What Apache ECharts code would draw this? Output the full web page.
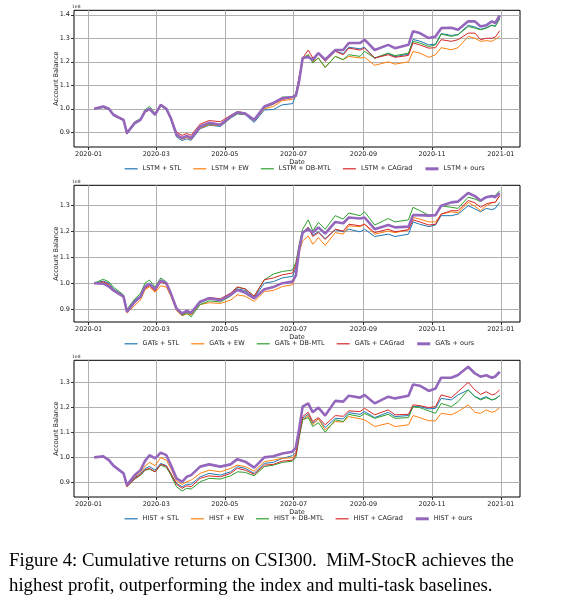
<!DOCTYPE html>
<html>
<head>
<meta charset="utf-8">
<script src="https://cdn.jsdelivr.net/npm/echarts@6/dist/echarts.min.js"></script>
<style>
  html, body { margin: 0; padding: 0; background: #fff; }
  #main { width: 572px; height: 606px; }
</style>
</head>
<body>
<div id="main"></div>
<script>
// sample dates (trading days)
var dates = ['2020-01-06','2020-01-14','2020-01-19','2020-01-23','2020-02-01','2020-02-04','2020-02-11','2020-02-16','2020-02-20','2020-02-24',
  '2020-02-29','2020-03-05','2020-03-10','2020-03-14','2020-03-19','2020-03-24','2020-03-28','2020-04-01','2020-04-09','2020-04-17',
  '2020-04-27','2020-05-06','2020-05-12','2020-05-19','2020-05-27','2020-06-05','2020-06-13','2020-06-21','2020-06-30','2020-07-03',
  '2020-07-06','2020-07-09','2020-07-14','2020-07-18','2020-07-23','2020-07-29','2020-08-07','2020-08-14','2020-08-19','2020-08-29',
  '2020-09-02','2020-09-11','2020-09-23','2020-09-29','2020-10-11','2020-10-15','2020-10-21','2020-10-29','2020-11-04','2020-11-09',
  '2020-11-18','2020-11-24','2020-12-03','2020-12-09','2020-12-14','2020-12-19','2020-12-24','2020-12-27','2020-12-31'];

var xTickLabels = ['2020-01','2020-03','2020-05','2020-07','2020-09','2020-11','2021-01'];
var yTicks1 = [0.9, 1.0, 1.1, 1.2, 1.3, 1.4];
var yTicks2 = [0.9, 1.0, 1.1, 1.2, 1.3];
var yTicks3 = [0.9, 1.0, 1.1, 1.2, 1.3];

var methods = ['STL', 'EW', 'DB-MTL', 'CAGrad', 'ours'];
var colors = ['#1f77b4', '#ff7f0e', '#2ca02c', '#d62728', '#9467bd'];

// account balance, units of 1e8
// LSTM
var lstmSTL = [1.0,1.005,0.997,0.97,0.95,0.892,0.935,0.95,0.985,0.995,0.972,1.012,0.995,0.955,0.88,0.865,0.872,0.866,0.915,0.93,0.925,0.96,0.978,0.975,0.942,0.995,0.997,1.017,1.022,1.06,1.13,1.21,1.225,1.2,1.235,1.205,1.245,1.235,1.262,1.255,1.262,1.215,1.235,1.222,1.232,1.295,1.288,1.272,1.275,1.32,1.312,1.316,1.355,1.348,1.338,1.345,1.356,1.352,1.383];
var lstmEW = [1.0,1.006,0.997,0.972,0.95,0.895,0.938,0.952,0.985,0.997,0.975,1.013,0.997,0.957,0.885,0.87,0.878,0.87,0.918,0.932,0.928,0.962,0.98,0.977,0.948,1.0,1.01,1.035,1.04,1.055,1.12,1.209,1.23,1.2,1.216,1.176,1.223,1.209,1.223,1.216,1.219,1.185,1.2,1.19,1.2,1.244,1.237,1.219,1.23,1.26,1.251,1.26,1.308,1.3,1.287,1.29,1.287,1.295,1.308];
var lstmDB = [1.0,1.008,0.998,0.972,0.952,0.9,0.945,0.958,0.995,1.01,0.982,1.015,1.0,0.96,0.89,0.876,0.884,0.876,0.922,0.935,0.93,0.962,0.98,0.978,0.95,1.005,1.02,1.05,1.05,1.065,1.13,1.216,1.23,1.195,1.216,1.176,1.223,1.209,1.23,1.223,1.244,1.216,1.237,1.226,1.237,1.287,1.28,1.265,1.272,1.318,1.308,1.315,1.35,1.343,1.336,1.343,1.355,1.35,1.386];
var lstmCAG = [1.0,1.008,0.998,0.972,0.95,0.895,0.937,0.955,0.985,0.997,0.975,1.018,1.002,0.963,0.9,0.887,0.895,0.887,0.935,0.95,0.945,0.972,0.988,0.982,0.955,1.008,1.02,1.04,1.048,1.06,1.14,1.216,1.25,1.216,1.237,1.202,1.245,1.23,1.258,1.25,1.258,1.216,1.23,1.219,1.227,1.28,1.272,1.258,1.26,1.294,1.287,1.294,1.322,1.322,1.294,1.3,1.3,1.305,1.332];
var lstmOurs = [1.0,1.01,1.0,0.975,0.953,0.897,0.94,0.953,0.989,1.0,0.975,1.017,1.0,0.96,0.89,0.875,0.885,0.875,0.925,0.94,0.932,0.967,0.985,0.98,0.953,1.01,1.025,1.045,1.05,1.055,1.12,1.216,1.22,1.209,1.237,1.209,1.25,1.25,1.28,1.28,1.294,1.25,1.272,1.258,1.272,1.33,1.322,1.301,1.308,1.343,1.345,1.336,1.372,1.372,1.35,1.355,1.372,1.365,1.397];

// GATs
var gatSTL = [1.0,1.008,1.0,0.978,0.952,0.895,0.935,0.952,0.99,1.0,0.978,1.012,1.0,0.96,0.898,0.878,0.888,0.88,0.925,0.94,0.935,0.958,0.978,0.972,0.945,1.0,1.006,1.02,1.026,1.06,1.14,1.194,1.214,1.184,1.197,1.171,1.205,1.197,1.207,1.197,1.207,1.179,1.188,1.179,1.188,1.235,1.226,1.217,1.223,1.259,1.259,1.265,1.297,1.285,1.274,1.287,1.282,1.287,1.31];
var gatEW = [1.0,1.003,0.993,0.97,0.945,0.885,0.915,0.935,0.975,0.985,0.965,0.99,0.985,0.95,0.895,0.875,0.882,0.878,0.918,0.925,0.922,0.935,0.955,0.95,0.93,0.968,0.972,0.987,0.994,1.03,1.12,1.162,1.181,1.149,1.175,1.145,1.194,1.188,1.22,1.217,1.226,1.188,1.2,1.194,1.205,1.252,1.246,1.235,1.235,1.265,1.274,1.27,1.31,1.295,1.278,1.297,1.308,1.31,1.336];
var gatDB = [1.0,1.015,1.005,0.985,0.955,0.9,0.94,0.96,1.0,1.012,0.985,1.02,1.005,0.962,0.9,0.876,0.885,0.871,0.918,0.932,0.928,0.95,0.985,0.978,0.95,1.013,1.035,1.045,1.05,1.08,1.15,1.207,1.243,1.2,1.233,1.207,1.259,1.246,1.269,1.259,1.274,1.223,1.248,1.235,1.243,1.291,1.278,1.261,1.261,1.297,1.291,1.287,1.33,1.323,1.313,1.33,1.336,1.336,1.355];
var gatCAG = [1.0,1.005,0.995,0.975,0.95,0.892,0.925,0.945,0.98,0.99,0.97,1.005,0.995,0.958,0.9,0.88,0.89,0.884,0.93,0.945,0.94,0.962,0.985,0.978,0.95,1.013,1.02,1.032,1.039,1.07,1.14,1.194,1.214,1.179,1.194,1.168,1.207,1.2,1.226,1.22,1.226,1.194,1.207,1.197,1.205,1.243,1.235,1.223,1.226,1.265,1.278,1.278,1.317,1.308,1.291,1.304,1.31,1.31,1.336];
var gatOurs = [1.0,0.998,0.987,0.972,0.948,0.89,0.929,0.948,0.987,0.997,0.977,1.01,1.0,0.961,0.903,0.884,0.894,0.886,0.929,0.942,0.935,0.955,0.974,0.964,0.942,0.977,0.985,1.0,1.006,1.03,1.13,1.194,1.207,1.194,1.214,1.19,1.235,1.23,1.252,1.248,1.252,1.207,1.223,1.214,1.217,1.261,1.261,1.259,1.261,1.297,1.31,1.313,1.346,1.334,1.317,1.33,1.334,1.33,1.346];

// HIST
var histSTL = [1.0,1.004,0.99,0.966,0.936,0.885,0.918,0.935,0.955,0.963,0.949,0.976,0.967,0.936,0.896,0.882,0.892,0.892,0.922,0.936,0.929,0.942,0.963,0.956,0.936,0.976,0.98,0.996,1.007,1.02,1.09,1.157,1.173,1.137,1.155,1.12,1.157,1.155,1.18,1.173,1.184,1.16,1.181,1.164,1.168,1.204,1.204,1.195,1.197,1.237,1.231,1.251,1.271,1.244,1.235,1.244,1.231,1.235,1.248];
var histEW = [1.0,1.006,0.99,0.966,0.936,0.887,0.922,0.94,0.965,0.98,0.967,0.999,0.989,0.956,0.905,0.892,0.902,0.909,0.936,0.949,0.942,0.956,0.969,0.963,0.945,0.983,0.989,0.996,0.999,1.015,1.09,1.151,1.168,1.131,1.155,1.111,1.144,1.142,1.164,1.155,1.151,1.124,1.137,1.124,1.131,1.168,1.16,1.147,1.147,1.177,1.171,1.184,1.211,1.181,1.177,1.191,1.181,1.185,1.2];
var histDB = [1.0,1.004,0.99,0.965,0.935,0.884,0.913,0.928,0.948,0.953,0.942,0.969,0.96,0.929,0.882,0.865,0.876,0.873,0.902,0.916,0.913,0.926,0.942,0.94,0.926,0.963,0.969,0.98,0.985,1.0,1.08,1.151,1.16,1.124,1.14,1.101,1.151,1.144,1.173,1.164,1.177,1.157,1.173,1.157,1.16,1.204,1.2,1.187,1.177,1.217,1.204,1.224,1.271,1.244,1.231,1.24,1.231,1.235,1.248];
var histCAG = [1.0,1.004,0.99,0.965,0.935,0.882,0.915,0.93,0.95,0.956,0.942,0.972,0.965,0.935,0.892,0.876,0.886,0.882,0.916,0.926,0.922,0.936,0.956,0.949,0.932,0.969,0.972,0.985,0.989,1.01,1.09,1.164,1.181,1.144,1.16,1.131,1.168,1.165,1.187,1.184,1.197,1.171,1.191,1.171,1.173,1.211,1.208,1.2,1.204,1.251,1.24,1.264,1.301,1.271,1.253,1.264,1.251,1.255,1.271];
var histOurs = [1.0,1.004,0.989,0.967,0.936,0.889,0.929,0.949,0.985,1.009,0.996,1.019,1.009,0.969,0.916,0.902,0.922,0.929,0.963,0.972,0.963,0.972,0.993,0.983,0.959,1.0,1.005,1.016,1.023,1.04,1.117,1.204,1.217,1.181,1.2,1.168,1.227,1.224,1.248,1.24,1.251,1.217,1.244,1.237,1.248,1.293,1.288,1.267,1.277,1.32,1.32,1.331,1.364,1.337,1.324,1.33,1.32,1.325,1.344];

var panels = [
  { model: 'LSTM', values: [lstmSTL, lstmEW, lstmDB, lstmCAG, lstmOurs], yMin: 0.8375, yMax: 1.419, yTicks: yTicks1 },
  { model: 'GATs', values: [gatSTL, gatEW, gatDB, gatCAG, gatOurs], yMin: 0.851, yMax: 1.3755, yTicks: yTicks2 },
  { model: 'HIST', values: [histSTL, histEW, histDB, histCAG, histOurs], yMin: 0.841, yMax: 1.39, yTicks: yTicks3 }
];

function day(s) {
  var p = s.split('-');
  return new Date(+p[0], +p[1] - 1, +(p[2] || 1)).getTime();
}
function pad(n) { return n < 10 ? '0' + n : '' + n; }

var xTicks = xTickLabels.map(function (s) { return day(s + '-01'); });
var xMin = day('2019-12-19'), xMax = day('2021-01-18');

var tops = [10.3, 185.3, 360.3];
var plotH = 136.7;
var labelFont = 'DejaVu Sans';

var grids = [], xAxes = [], yAxes = [], legends = [], series = [], graphics = [];

panels.forEach(function (pn, p) {
  grids.push({ left: 74, top: tops[p], width: 446, height: plotH, show: true,
    borderColor: '#000', borderWidth: 1, backgroundColor: 'transparent' });

  // dates as plain millisecond values so the month ticks can be placed exactly
  xAxes.push({
    type: 'value', gridIndex: p, min: xMin, max: xMax,
    axisLine: { show: false },
    axisTick: { show: true, customValues: xTicks, length: 3, lineStyle: { color: '#000', width: 0.8 } },
    axisLabel: { customValues: xTicks, fontSize: 6.5, fontFamily: labelFont, color: '#222', margin: 4,
      formatter: function (v) { var d = new Date(v); return d.getFullYear() + '-' + pad(d.getMonth() + 1); } },
    splitLine: { show: true, lineStyle: { color: '#b0b0b0', width: 1 } },
    name: 'Date', nameLocation: 'middle', nameGap: 12,
    nameTextStyle: { fontSize: 6.5, fontFamily: labelFont, color: '#222' }
  });

  yAxes.push({
    type: 'value', gridIndex: p, min: pn.yMin, max: pn.yMax,
    axisLine: { show: false },
    axisTick: { show: true, customValues: pn.yTicks, length: 3, lineStyle: { color: '#000', width: 0.8 } },
    axisLabel: { customValues: pn.yTicks, fontSize: 6.5, fontFamily: labelFont, color: '#222', margin: 4,
      formatter: function (v) { return v.toFixed(1); } },
    splitLine: { show: true, lineStyle: { color: '#b0b0b0', width: 1 } },
    name: 'Account Balance', nameLocation: 'middle', nameGap: 14, nameRotate: 90, nameMoveOverlap: false,
    nameTextStyle: { fontSize: 6.5, fontFamily: labelFont, color: '#222' }
  });

  var names = methods.map(function (m) { return pn.model + ' + ' + m; });
  legends.push({
    data: names.map(function (n, k) {
      return { name: n, lineStyle: { width: k === 4 ? 3 : 1.2 }, itemStyle: { opacity: 0 } };
    }),
    top: tops[p] + 155, left: 124, padding: 0, itemWidth: 13, itemHeight: 8, itemGap: 11.5,
    textStyle: { fontSize: 6.5, fontFamily: labelFont, color: '#222' }
  });

  pn.values.forEach(function (vals, k) {
    series.push({
      name: names[k], type: 'line', xAxisIndex: p, yAxisIndex: p,
      symbol: 'none', showSymbol: false, animation: false, z: 2 + k,
      color: colors[k],
      lineStyle: { color: colors[k], width: k === 4 ? 2.6 : 1 },
      data: dates.map(function (d, i) { return [day(d), vals[i]]; })
    });
  });

  graphics.push({ type: 'text', left: 72, top: tops[p] - 6,
    style: { text: '1e8', font: '4.5px "DejaVu Sans"', fill: '#333' } });
});

graphics.push({ type: 'text', left: 9, top: 552,
  style: { text: 'Figure 4: Cumulative returns on CSI300.  MiM-StocR achieves the', font: '18.8px "Liberation Serif"', fill: '#000' } });
graphics.push({ type: 'text', left: 9, top: 577,
  style: { text: 'highest profit, outperforming the index and multi-task baselines.', font: '18.8px "Liberation Serif"', fill: '#000' } });

var chart = echarts.init(document.getElementById('main'));
chart.setOption({
  backgroundColor: '#fff',
  animation: false,
  grid: grids,
  xAxis: xAxes,
  yAxis: yAxes,
  legend: legends,
  series: series,
  graphic: graphics
});
</script>
</body>
</html>
